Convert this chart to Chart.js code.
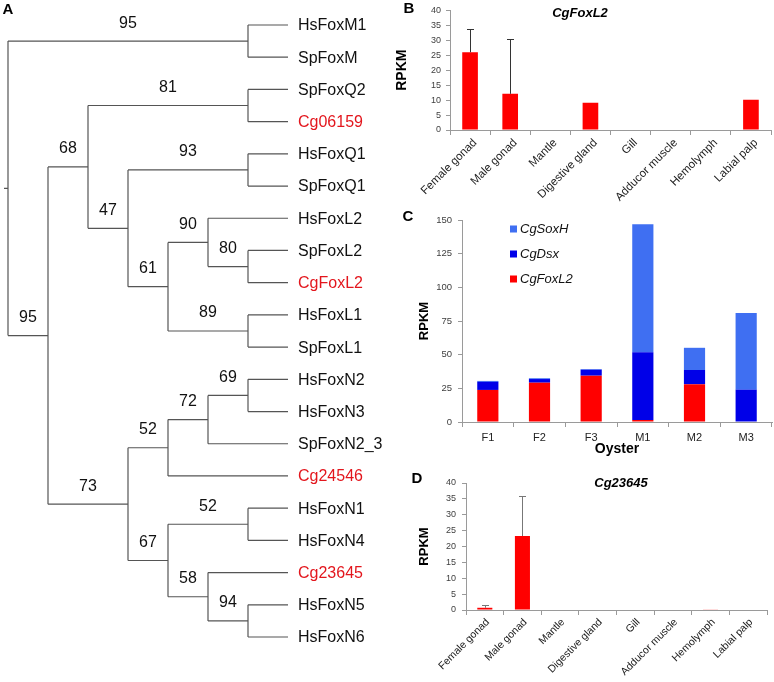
<!DOCTYPE html>
<html>
<head>
<meta charset="utf-8">
<script src="https://cdn.jsdelivr.net/npm/chart.js@4.4.1/dist/chart.umd.min.js"></script>
<style>
  body { margin: 0; background: #fff; width: 774px; height: 682px; position: relative; overflow: hidden; }
  canvas { position: absolute; }
</style>
</head>
<body>
<canvas id="tree" width="400" height="682" style="left:0px;top:0px"></canvas>
<canvas id="chartB" width="394" height="205" style="left:380px;top:0px"></canvas>
<canvas id="chartC" width="394" height="262" style="left:380px;top:200px"></canvas>
<canvas id="chartD" width="394" height="220" style="left:380px;top:462px"></canvas>
<script>
// tree topology with bootstrap support on internal nodes
const foxTree = '((HsFoxM1,SpFoxM)95,(((SpFoxQ2,Cg06159)81,((HsFoxQ1,SpFoxQ1)93,((HsFoxL2,(SpFoxL2,CgFoxL2)80)90,(HsFoxL1,SpFoxL1)89)61)47)68,((((HsFoxN2,HsFoxN3)69,SpFoxN2_3)72,Cg24546)52,((HsFoxN1,HsFoxN4)52,(Cg23645,(HsFoxN5,HsFoxN6)94)58)67)73)95);';
const oysterGenes = ['Cg06159', 'CgFoxL2', 'Cg24546', 'Cg23645'];

const tissues = ['Female gonad', 'Male gonad', 'Mantle', 'Digestive gland', 'Gill', 'Adducor muscle', 'Hemolymph', 'Labial palp'];
const foxl2Rpkm = [26, 12.1, 0, 9.1, 0, 0, 0, 10.1];
const foxl2Err = [7.9, 18.2, 0, 0, 0, 0, 0, 0];
const cg23645Rpkm = [0.7, 23.3, 0, 0.15, 0, 0, 0.2, 0];
const cg23645Err = [0.8, 12.7, 0, 0, 0, 0, 0, 0];

const oysters = ['F1', 'F2', 'F3', 'M1', 'M2', 'M3'];
const foxl2Oyster = [23.8, 29.2, 34.4, 1.5, 28, 0];
const dsxOyster = [6, 2.7, 4.4, 50.3, 10.6, 24];
const soxHOyster = [0.7, 0.6, 0.5, 95, 16.5, 57];

const FONT = "'Liberation Sans', Arial, sans-serif";
Chart.defaults.font.family = FONT;
Chart.defaults.animation = false;

function parseNewick(s) {
  let i = 0;
  function node() {
    const n = { children: [], name: '' };
    if (s[i] === '(') {
      i++;
      n.children.push(node());
      while (s[i] === ',') { i++; n.children.push(node()); }
      i++;
    }
    let t = '';
    while (i < s.length && !',();'.includes(s[i])) t += s[i++];
    n.name = t;
    return n;
  }
  return node();
}

const root = parseNewick(foxTree);
let leafCount = 0;
function place(n) {
  if (!n.children.length) { n.y = leafCount++; n.h = 0; return; }
  n.children.forEach(place);
  n.y = (n.children[0].y + n.children[n.children.length - 1].y) / 2;
  n.h = 1 + Math.max(...n.children.map(c => c.h));
}
place(root);

const treeLines = [];
const leafLabels = [];
const supportLabels = [];
function walk(n, parent) {
  n.x = root.h - n.h;
  if (parent) {
    treeLines.push({ x: parent.x, y: n.y }, { x: n.x, y: n.y }, { x: n.x, y: null });
  } else {
    treeLines.push({ x: n.x - 0.1, y: n.y }, { x: n.x, y: n.y }, { x: n.x, y: null });
  }
  if (n.children.length) {
    const first = n.children[0], last = n.children[n.children.length - 1];
    treeLines.push({ x: n.x, y: first.y }, { x: n.x, y: last.y }, { x: n.x, y: null });
    if (parent) supportLabels.push({ x: (parent.x + n.x) / 2, y: n.y, text: n.name });
    n.children.forEach(c => walk(c, n));
  } else {
    leafLabels.push({ x: n.x, y: n.y, text: n.name });
  }
}
walk(root, null);

const treeText = {
  id: 'treeText',
  afterDatasetsDraw(chart) {
    const { ctx, scales: { x, y } } = chart;
    ctx.save();
    ctx.textBaseline = 'middle';
    ctx.font = '16px ' + FONT;
    ctx.textAlign = 'left';
    leafLabels.forEach(l => {
      ctx.fillStyle = oysterGenes.includes(l.text) ? '#e3161d' : '#111';
      ctx.fillText(l.text, x.getPixelForValue(l.x) + 10, y.getPixelForValue(l.y) + 1);
    });
    ctx.fillStyle = '#111';
    ctx.textAlign = 'center';
    supportLabels.forEach(l => {
      ctx.fillText(l.text, x.getPixelForValue(l.x), y.getPixelForValue(l.y) - 18);
    });
    ctx.restore();
  }
};

const textItems = {
  id: 'textItems',
  afterDraw(chart, args, opts) {
    const ctx = chart.ctx;
    (opts.items || []).forEach(t => {
      ctx.save();
      ctx.font = t.font;
      ctx.fillStyle = t.color || '#000';
      ctx.textAlign = 'center';
      ctx.textBaseline = 'middle';
      ctx.fillText(t.text, t.x, t.y);
      ctx.restore();
    });
  }
};

const errorBars = {
  id: 'errorBars',
  afterDatasetsDraw(chart, args, opts) {
    if (!opts.errors) return;
    const { ctx } = chart;
    const ys = chart.scales.y;
    const values = chart.data.datasets[0].data;
    ctx.save();
    ctx.strokeStyle = opts.color;
    ctx.lineWidth = 1;
    chart.getDatasetMeta(0).data.forEach((bar, i) => {
      const e = opts.errors[i];
      if (!e) return;
      const bx = Math.round(bar.x) + 0.5;
      const top = Math.round(ys.getPixelForValue(values[i] + e)) + 0.5;
      ctx.beginPath();
      ctx.moveTo(bx, bar.y);
      ctx.lineTo(bx, top);
      ctx.moveTo(bx - 3.5, top);
      ctx.lineTo(bx + 3.5, top);
      ctx.stroke();
    });
    ctx.restore();
  }
};

const stackLegend = {
  id: 'stackLegend',
  afterDraw(chart, args, opts) {
    if (opts.x === undefined) return;
    const { ctx } = chart;
    const items = chart.data.datasets.slice().reverse();
    ctx.save();
    ctx.textBaseline = 'middle';
    ctx.textAlign = 'left';
    ctx.font = 'italic 13px ' + FONT;
    items.forEach((d, k) => {
      const y = opts.y + k * opts.gap;
      ctx.fillStyle = d.backgroundColor;
      ctx.fillRect(opts.x, y - 3.5, 7, 7);
      ctx.fillStyle = '#111';
      ctx.fillText(d.label, opts.x + 10, y);
    });
    ctx.restore();
  }
};

Chart.register(textItems, errorBars, stackLegend);

new Chart(document.getElementById('tree'), {
  type: 'line',
  data: {
    datasets: [{
      data: treeLines,
      borderColor: '#555',
      borderWidth: 1.2,
      pointRadius: 0,
      spanGaps: false,
      tension: 0
    }]
  },
  options: {
    responsive: false,
    events: [],
    layout: { padding: 0 },
    scales: {
      x: { type: 'linear', display: false, min: -0.2, max: 9.8 },
      y: { type: 'linear', display: false, min: -0.776, max: 20.397, reverse: true }
    },
    plugins: {
      legend: { display: false },
      tooltip: { enabled: false },
      textItems: { items: [{ text: 'A', x: 8, y: 10, font: 'bold 15px ' + FONT }] }
    }
  },
  plugins: [treeText]
});

function axisY(max, step, width, titleSize, titlePad, tickSize, tickPad) {
  return {
    min: 0, max: max,
    ticks: { stepSize: step, font: { size: tickSize }, color: '#404040', padding: tickPad },
    grid: { drawOnChartArea: false, tickLength: 4, color: '#9a9a9a' },
    border: { color: '#9a9a9a' },
    title: { display: true, text: 'RPKM', color: '#000', font: { size: titleSize, weight: 'bold' }, padding: { top: titlePad, bottom: 0 } },
    afterFit: s => { s.width = width; }
  };
}

function axisTissue(height, size, shift) {
  return {
    offset: true,
    grid: { offset: true, drawOnChartArea: false, tickLength: 5, color: '#9a9a9a' },
    border: { color: '#9a9a9a' },
    ticks: { minRotation: 45, maxRotation: 45, autoSkip: false, labelOffset: shift, font: { size: size }, color: '#222', padding: 1 },
    afterFit: s => { s.height = height; }
  };
}

new Chart(document.getElementById('chartB'), {
  type: 'bar',
  data: {
    labels: tissues,
    datasets: [{ label: 'CgFoxL2', data: foxl2Rpkm, backgroundColor: '#ff0000', categoryPercentage: 1, barPercentage: 0.39 }]
  },
  options: {
    responsive: false,
    events: [],
    layout: { padding: { top: 5, right: 3, left: 0, bottom: 0 } },
    scales: {
      x: axisTissue(75, 11.5, 5),
      y: axisY(40, 5, 70, 14, 14, 9, 5)
    },
    plugins: {
      legend: { display: false },
      tooltip: { enabled: false },
      errorBars: { errors: foxl2Err, color: '#333' },
      textItems: { items: [
        { text: 'B', x: 29, y: 9, font: 'bold 15px ' + FONT },
        { text: 'CgFoxL2', x: 200, y: 13, font: 'italic bold 13px ' + FONT }
      ] }
    }
  }
});

new Chart(document.getElementById('chartC'), {
  type: 'bar',
  data: {
    labels: oysters,
    datasets: [
      { label: 'CgFoxL2', data: foxl2Oyster, backgroundColor: '#ff0000', categoryPercentage: 1, barPercentage: 0.41 },
      { label: 'CgDsx', data: dsxOyster, backgroundColor: '#0000e8', categoryPercentage: 1, barPercentage: 0.41 },
      { label: 'CgSoxH', data: soxHOyster, backgroundColor: '#3f6ff2', categoryPercentage: 1, barPercentage: 0.41 }
    ]
  },
  options: {
    responsive: false,
    events: [],
    layout: { padding: { top: 20, right: 2, left: 0, bottom: 0 } },
    scales: {
      x: {
        stacked: true,
        offset: true,
        grid: { offset: true, drawOnChartArea: false, tickLength: 5, color: '#9a9a9a' },
        border: { color: '#9a9a9a' },
        ticks: { maxRotation: 0, font: { size: 11 }, color: '#222', padding: 4 },
        title: { display: true, text: 'Oyster', color: '#000', font: { size: 14, weight: 'bold' }, padding: { top: 0, bottom: 4 } },
        afterFit: s => { s.height = 40; }
      },
      y: Object.assign(axisY(150, 25, 82, 13, 37, 9.5, 6), { stacked: true })
    },
    plugins: {
      legend: { display: false },
      tooltip: { enabled: false },
      stackLegend: { x: 130, y: 29, gap: 25 },
      textItems: { items: [{ text: 'C', x: 28, y: 17, font: 'bold 15px ' + FONT }] }
    }
  }
});

new Chart(document.getElementById('chartD'), {
  type: 'bar',
  data: {
    labels: tissues,
    datasets: [{ label: 'Cg23645', data: cg23645Rpkm, backgroundColor: '#ff0000', categoryPercentage: 1, barPercentage: 0.4 }]
  },
  options: {
    responsive: false,
    events: [],
    layout: { padding: { top: 21, right: 7, left: 0, bottom: 0 } },
    scales: {
      x: axisTissue(72, 10.5, 3),
      y: axisY(40, 5, 86, 13, 37, 9, 6)
    },
    plugins: {
      legend: { display: false },
      tooltip: { enabled: false },
      errorBars: { errors: cg23645Err, color: '#777' },
      textItems: { items: [
        { text: 'D', x: 37, y: 17, font: 'bold 15px ' + FONT },
        { text: 'Cg23645', x: 241, y: 21, font: 'italic bold 13px ' + FONT }
      ] }
    }
  }
});
</script>
</body>
</html>
